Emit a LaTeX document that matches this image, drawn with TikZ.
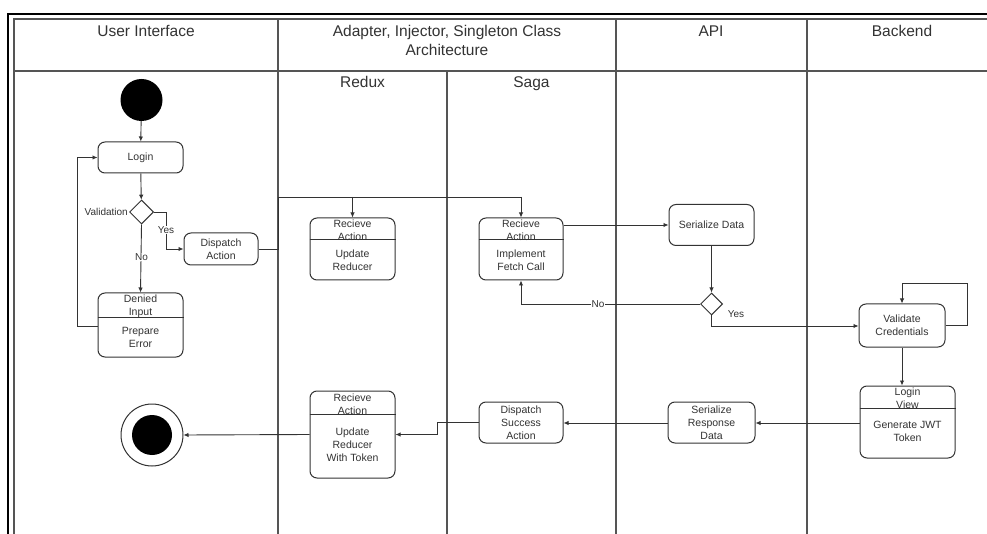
\documentclass[tikz,border=0pt]{standalone}
\usepackage{fontspec}
\setmainfont{Liberation Sans}
\usetikzlibrary{arrows.meta,shapes.geometric}
\definecolor{ln}{HTML}{333333}
\definecolor{lane}{HTML}{555555}
\begin{document}
\begin{tikzpicture}[x=1pt,y=-1pt,
  box/.style={draw=ln,line width=1pt,rounded corners=7pt,inner sep=0pt,align=center,font=\fontsize{10.5}{13}\selectfont,text=ln},
  txt/.style={inner sep=0pt,align=center,font=\fontsize{10.5}{13}\selectfont,text=ln},
  hdr/.style={inner sep=0pt,align=center,font=\fontsize{15.5}{19}\selectfont,text=ln},
  lbl/.style={inner sep=1pt,fill=white,font=\fontsize{10}{12}\selectfont,text=ln},
  arr/.style={draw=ln,line width=0.9pt,-{Latex[length=5pt,width=4.5pt]}},
  con/.style={draw=ln,line width=0.9pt},
  dec/.style={diamond,draw=ln,line width=1pt,minimum width=24pt,minimum height=24pt,inner sep=0pt,fill=white},
  lanel/.style={draw=lane,line width=1.2pt},
]
\useasboundingbox (0,0) rectangle (987,534);
\fill[white] (0,0) rectangle (987,534);
% outer frame
\draw[line width=2.5pt] (8,534) -- (8,14) -- (987,14);
% swimlanes
\draw[lanel] (14,534) -- (14,19) -- (987,19);
\draw[lanel] (14,71) -- (987,71);
\draw[lanel] (278,19) -- (278,534);
\draw[lanel] (616,19) -- (616,534);
\draw[lanel] (807,19) -- (807,534);
\draw[lanel] (447,71) -- (447,534);
% headers
\node[hdr] (h1) at (146,31) {User Interface};
\node[hdr] (h2) at (447,40.5) {Adapter, Injector, Singleton Class\\Architecture};
\node[hdr] (h3) at (711,31) {API};
\node[hdr] (h4) at (902,31) {Backend};
\node[hdr,anchor=base] (h5) at (362.5,87.5) {Redux};
\node[hdr,anchor=base] (h6) at (531.5,87.5) {Saga};

% User interface
\node[circle,fill=black,minimum size=42pt,inner sep=0pt] (start) at (141.5,100) {};
\node[box,minimum width=85pt,minimum height=31pt] (login) at (140.5,157.5) {Login};
\node[dec] (d1) at (141.5,212) {};
\node[lbl,fill=none,anchor=east] (vl) at (d1.west) {Validation};
\node[box,minimum width=74pt,minimum height=32pt] (disp) at (221,249) {Dispatch\\Action};
\node[box,minimum width=85pt,minimum height=64pt] (denied) at (140.5,325) {};
\draw[con] (denied.west |- 0,317) -- (denied.east |- 0,317);
\node[txt] (deniedt) at (140.5,306.5) {Denied\\Input};
\node[txt] (deniedb) at (140.5,337.5) {Prepare\\Error};
\node[circle,draw=ln,line width=1pt,minimum size=62pt,inner sep=0pt] (final) at (152,435) {};
\node[circle,fill=black,minimum size=40pt,inner sep=0pt] (finalin) at (152,435) {};

% Redux
\node[box,minimum width=85pt,minimum height=62pt] (ra1) at (352.5,249) {};
\draw[con] (ra1.west |- 0,239) -- (ra1.east |- 0,239);
\node[txt] (ra1t) at (352.5,230) {Recieve\\Action};
\node[txt] (ra1b) at (352.5,260.5) {Update\\Reducer};
\node[box,minimum width=85pt,minimum height=87pt] (tok) at (352.5,434.5) {};
\draw[con] (tok.west |- 0,414) -- (tok.east |- 0,414);
\node[txt] (tokt) at (352.5,404) {Recieve\\Action};
\node[txt] (tokb) at (352.5,444.5) {Update\\Reducer\\With Token};

% Saga
\node[box,minimum width=84pt,minimum height=62pt] (ra2) at (521,249) {};
\draw[con] (ra2.west |- 0,239) -- (ra2.east |- 0,239);
\node[txt] (ra2t) at (521,230) {Recieve\\Action};
\node[txt] (ra2b) at (521,260.5) {Implement\\Fetch Call};
\node[box,minimum width=84pt,minimum height=41pt] (dsa) at (521,422.5) {Dispatch\\Success\\Action};

% API
\node[box,minimum width=85pt,minimum height=41pt] (sd) at (711.5,225) {Serialize Data};
\node[dec,minimum width=22pt,minimum height=22pt] (d2) at (711.5,304) {};
\node[box,minimum width=87pt,minimum height=41pt] (srd) at (711.5,422.5) {Serialize\\Response\\Data};

% Backend
\node[box,minimum width=86pt,minimum height=43pt] (vc) at (902,325.5) {Validate\\Credentials};
\node[box,minimum width=95pt,minimum height=72pt] (jwt) at (907.5,422) {};
\draw[con] (jwt.west |- 0,408) -- (jwt.east |- 0,408);
\node[txt] (jwtt) at (907.5,398.5) {Login\\View};
\node[txt] (jwtb) at (907.5,431.5) {Generate JWT\\Token};

% connectors
\draw[arr] (start) -- (login);
\draw[arr] (login) -- (d1);
\draw[arr] (d1.east) -- (166,212) -- (166,249) -- (disp.west);
\node[lbl] (yes1) at (166,230) {Yes};
\draw[arr] (d1.south) -- (denied.north);
\node[lbl] (no1) at (141.5,257) {No};
\draw[arr] (denied.west |- 0,326) -- (77,326) -- (77,157.5) -- (login.west);
\draw[con] (disp.east) -- (278,249) -- (278,197) -- (521,197);
\coordinate (fork) at (352.5,197);
\draw[arr] (521,197) -- (ra2.north);
\draw[arr] (fork) -- (ra1.north);
\draw[arr] (ra2.east |- sd.west) -- (sd.west);
\draw[arr] (sd.south) -- (d2.north);
\draw[arr] (d2.west) -- (521,304) -- (ra2.south);
\node[lbl] (no2) at (598,304) {No};
\draw[arr] (d2.south) -- (711.5,326) -- (vc.west |- 0,326);
\node[lbl,fill=none] (yes2) at (736,314) {Yes};
\draw[arr] (vc.east) -- (967,325.5) -- (967,283) -- (902,283) -- (vc.north);
\draw[arr] (vc.south) -- (vc.south |- jwt.north);
\draw[arr] (jwt.west |- 0,423) -- (srd.east |- 0,423);
\draw[arr] (srd.west |- 0,423) -- (dsa.east |- 0,423);
\draw[arr] (dsa.west |- 0,422) -- (437,422) -- (437,434.5) -- (tok.east);
\draw[arr] (tok.west) -- (final.east);
\end{tikzpicture}
\end{document}
